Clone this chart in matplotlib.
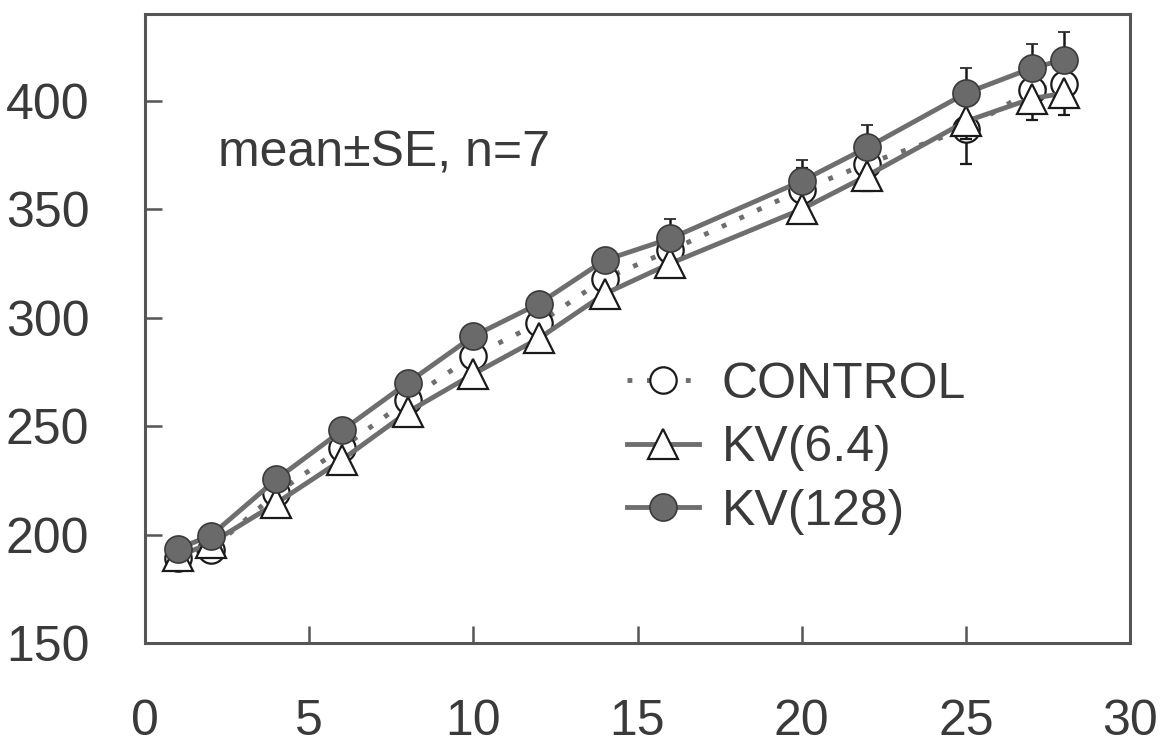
import numpy as np
import matplotlib
matplotlib.use('Agg')
import matplotlib.pyplot as plt
from matplotlib.lines import Line2D

plt.rcParams['font.family'] = ['Liberation Sans', 'DejaVu Sans']

# body weight over days
days = [1, 2, 4, 6, 8, 10, 12, 14, 16, 20, 22, 25, 27, 28]
control = [189, 193, 219, 240, 262, 282.5, 297.5, 318, 331, 359, 371, 387, 405, 407.5]
kv64 = [190, 196, 214.5, 234.5, 256.5, 274, 290.5, 311, 325, 350, 365.5, 390.5, 401, 403.5]
kv128 = [193.5, 199.5, 225.5, 248, 270, 291.5, 306.5, 326.5, 336.5, 363, 378.5, 403.5, 415, 419]

control_se = [2, 2, 3, 3, 3, 4, 4, 4, 5, 10, 6, 16, 6, 6]
kv64_se = [2, 2, 3, 3, 3, 4, 4, 4, 5, 6, 7, 8, 10, 10]
kv128_se = [2, 2, 3, 3, 3, 3, 4, 4, 9, 9.5, 10.5, 11.5, 11, 12.5]

labels = ['CONTROL', 'KV(6.4)', 'KV(128)']
note = 'mean\u00b1SE, n=7'

line_col = '#6e6e6e'
edge_col = '#1a1a1a'
text_col = '#3a3a3a'
zeros = np.zeros(len(days))

fig = plt.figure(figsize=(11.65, 7.45), dpi=100, facecolor='white')
ax = fig.add_axes([0.1245, 0.1369, 0.8455, 0.8443])

ax.errorbar(days, control, yerr=control_se, color=line_col, ls=(0, (1, 3)), lw=3.5,
            marker='o', ms=19, mfc='white', mec=edge_col, mew=1.6,
            ecolor=edge_col, elinewidth=1.8, capsize=4, capthick=1.8, zorder=2)
ax.errorbar(days, kv64, yerr=[kv64_se, zeros], color=line_col, ls='-', lw=3.5,
            marker='^', ms=21, mfc='white', mec=edge_col, mew=1.6,
            ecolor=edge_col, elinewidth=1.8, capsize=4, capthick=1.8, zorder=3)
ax.errorbar(days, kv128, yerr=[zeros, kv128_se], color=line_col, ls='-', lw=3.5,
            marker='o', ms=19.5, mfc='#6a6a6a', mec='#3a3a3a', mew=1.2,
            ecolor=edge_col, elinewidth=1.8, capsize=4, capthick=1.8, zorder=4)

ax.set_xlim(0, 30)
ax.set_ylim(150, 440)
ax.set_xticks(range(0, 31, 5))
ax.set_yticks(range(150, 401, 50))
ax.tick_params(direction='in', length=12, width=1.8, color='#555555',
               labelsize=36, labelcolor=text_col)
ax.tick_params(axis='x', pad=40)
ax.tick_params(axis='y', pad=40)
for s in ax.spines.values():
    s.set_linewidth(2.2)
    s.set_color('#555555')

ax.text(0.074, 0.779, note, transform=ax.transAxes, fontsize=36,
        color=text_col, va='center', ha='left')

handles = [
    Line2D([], [], color=line_col, ls=(0, (1, 3)), lw=3.5, marker='o', ms=19,
           mfc='white', mec=edge_col, mew=1.6),
    Line2D([], [], color=line_col, ls='-', lw=3.5, marker='^', ms=21,
           mfc='white', mec=edge_col, mew=1.6),
    Line2D([], [], color=line_col, ls='-', lw=3.5, marker='o', ms=19.5,
           mfc='#6a6a6a', mec='#3a3a3a', mew=1.2),
]
leg = ax.legend(handles, labels, loc='upper left', bbox_to_anchor=(0.489, 0.447),
                frameon=False, fontsize=36, handlelength=1.45, handletextpad=0.45,
                labelspacing=0.35, borderpad=0, borderaxespad=0)
for t in leg.get_texts():
    t.set_color(text_col)

fig.savefig('out.png', dpi=100, facecolor='white')
